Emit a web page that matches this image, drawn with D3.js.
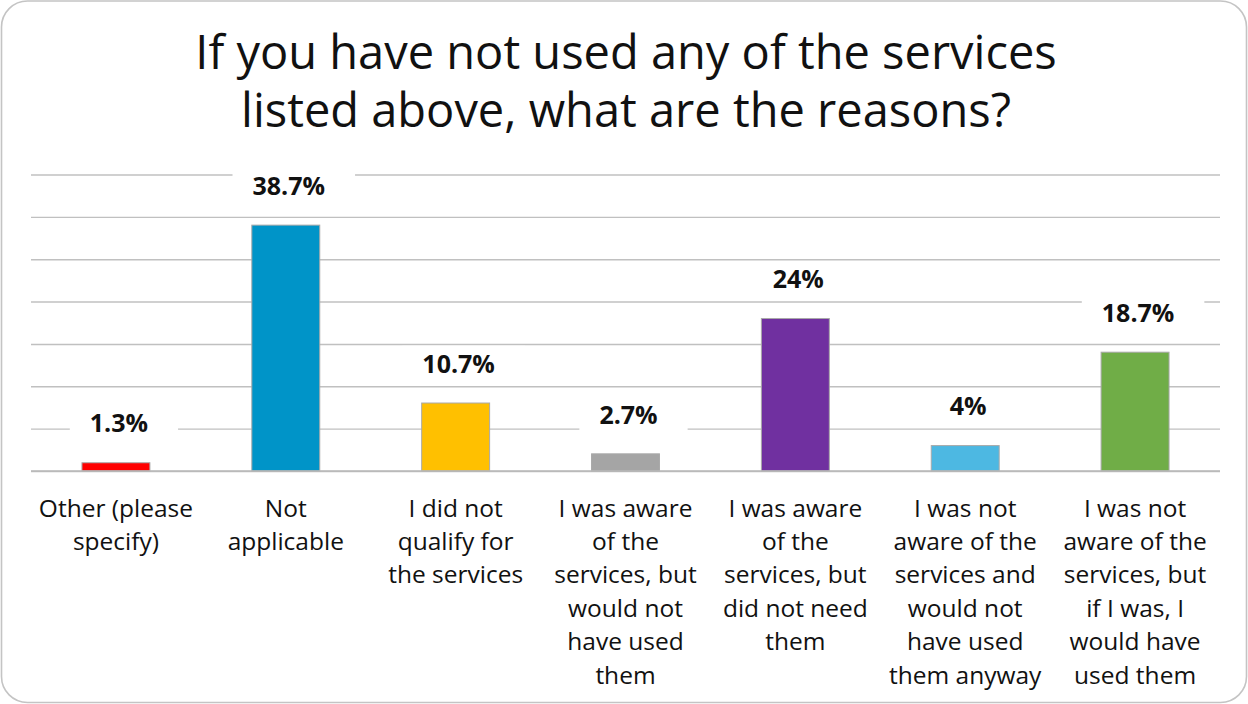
<!DOCTYPE html>
<html>
<head>
<meta charset="utf-8">
<script src="https://cdn.jsdelivr.net/npm/d3@7"></script>
<style>
  html, body { margin: 0; padding: 0; background: #ffffff; }
  svg { display: block; }
  text { font-family: "Open Sans", "Lato", sans-serif; }
</style>
</head>
<body>
<svg id="chart" width="1248" height="704"></svg>
<script>
// Survey: reasons for not using the listed services (share of 75 respondents)
const titleLines = [
  "If you have not used any of the services",
  "listed above, what are the reasons?"
];

const categories = [
  ["Other (please", "specify)"],
  ["Not", "applicable"],
  ["I did not", "qualify for", "the services"],
  ["I was aware", "of the", "services, but", "would not", "have used", "them"],
  ["I was aware", "of the", "services, but", "did not need", "them"],
  ["I was not", "aware of the", "services and", "would not", "have used", "them anyway"],
  ["I was not", "aware of the", "services, but", "if I was, I", "would have", "used them"]
];

const percentages = [1.3, 38.7, 10.7, 2.7, 24, 4, 18.7];
const valueLabels = ["1.3%", "38.7%", "10.7%", "2.7%", "24%", "4%", "18.7%"];

const barColors = ["#FF0000", "#0094C8", "#FFC000", "#A5A5A5", "#7030A0", "#4DB8E2", "#70AD47"];

// Value axis: 0 to 35 responses out of 75, gridline every 5 responses
const respondents = 75;
const gridResponses = [0, 5, 10, 15, 20, 25, 30, 35];

const W = 1248, H = 704;
const svg = d3.select("#chart");

// Outer rounded frame
svg.append("rect")
  .attr("x", 1.5).attr("y", 1)
  .attr("width", W - 3).attr("height", H - 2.5)
  .attr("rx", 26).attr("ry", 26)
  .attr("fill", "#ffffff")
  .attr("stroke", "#c4c4c4")
  .attr("stroke-width", 1.6);

// Title
svg.append("g")
  .selectAll("text")
  .data(titleLines)
  .join("text")
  .attr("x", 626)
  .attr("y", (d, i) => 68.5 + i * 58.2)
  .attr("text-anchor", "middle")
  .attr("font-size", 47)
  .attr("fill", "#111111")
  .text(d => d);

const plot = { left: 31, right: 1220, top: 174.5, bottom: 471 };

const idx = d3.range(categories.length);
const x = d3.scaleBand()
  .domain(idx)
  .range([plot.left, plot.right])
  .paddingInner(0.6)
  .paddingOuter(0.3);

const y = d3.scaleLinear()
  .domain([0, d3.max(gridResponses) / respondents * 100])
  .range([plot.bottom, plot.top]);

// Gridlines through the library axis
const gridAxis = d3.axisLeft(y)
  .tickValues(gridResponses.map(r => r / respondents * 100))
  .tickSize(-(plot.right - plot.left))
  .tickFormat("");

const grid = svg.append("g")
  .attr("transform", `translate(${plot.left},0)`)
  .call(gridAxis);
grid.select(".domain").remove();
grid.selectAll(".tick line")
  .attr("stroke", "#c0c0c0")
  .attr("stroke-width", 1.4);

// Bars
svg.append("g")
  .selectAll("rect")
  .data(percentages)
  .join("rect")
  .attr("x", (d, i) => x(i))
  .attr("y", d => y(d))
  .attr("width", x.bandwidth())
  .attr("height", d => y(0) - y(d))
  .attr("fill", (d, i) => barColors[i])
  .attr("stroke", "#a9a9a9")
  .attr("stroke-width", 1);

// Baseline
svg.append("line")
  .attr("x1", plot.left).attr("x2", plot.right)
  .attr("y1", y(0)).attr("y2", y(0))
  .attr("stroke", "#b8b8b8")
  .attr("stroke-width", 1.6);

// Data labels on white boxes
const labels = svg.append("g")
  .selectAll("g")
  .data(percentages)
  .join("g");

labels.append("text")
  .attr("x", (d, i) => x(i) + x.bandwidth() / 2 + 3)
  .attr("y", d => y(d) - 39)
  .attr("dy", "0.35em")
  .attr("text-anchor", "middle")
  .attr("font-size", 25)
  .attr("font-weight", "bold")
  .attr("fill", "#111111")
  .text((d, i) => valueLabels[i]);

labels.each(function() {
  const g = d3.select(this);
  const bb = g.select("text").node().getBBox();
  g.insert("rect", "text")
    .attr("x", bb.x - 20)
    .attr("y", bb.y)
    .attr("width", bb.width + 50)
    .attr("height", bb.height)
    .attr("fill", "#ffffff");
});

// Category labels
svg.append("g")
  .selectAll("text")
  .data(categories)
  .join("text")
  .attr("x", (d, i) => x(i) + x.bandwidth() / 2)
  .attr("y", 516.5)
  .attr("text-anchor", "middle")
  .attr("font-size", 24.5)
  .attr("fill", "#111111")
  .each(function(lines) {
    d3.select(this).selectAll("tspan")
      .data(lines)
      .join("tspan")
      .attr("x", d3.select(this).attr("x"))
      .attr("dy", (d, j) => j === 0 ? 0 : 33.4)
      .text(d => d);
  });
</script>
</body>
</html>
